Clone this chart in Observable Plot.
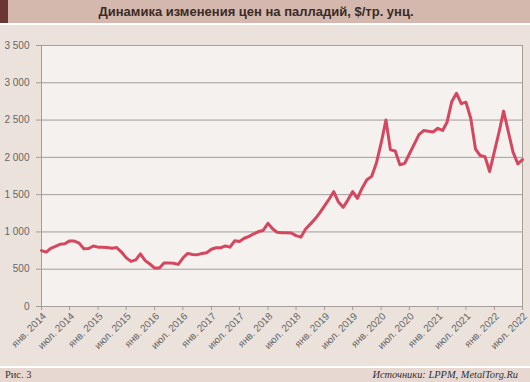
<!DOCTYPE html>
<html><head><meta charset="utf-8">
<script src="https://cdn.jsdelivr.net/npm/d3@7"></script>
<script src="https://cdn.jsdelivr.net/npm/@observablehq/plot@0.6"></script>
<style>
html,body{margin:0;padding:0;background:#fff;}
#wrap{position:relative;width:530px;height:382px;background:#fff;overflow:hidden;font-family:"Liberation Sans",Arial,sans-serif;}
#title{position:absolute;left:0;top:0;width:530px;height:23px;background:#d4b8ad;}
#title .blk{position:absolute;left:0;top:0;width:8px;height:23px;background:#6b3732;}
#title .txt{position:absolute;left:0;top:0;width:512px;line-height:23px;text-align:center;font-weight:bold;font-size:13px;color:#3b2b27;}
#panel{position:absolute;left:0;top:25px;width:530px;height:341px;background:#ebe2dc;}
#panel svg{display:block;}
#foot{position:absolute;left:0;top:368px;width:530px;height:14px;background:#e7d8d1;font-family:"Liberation Serif","DejaVu Serif",serif;font-size:10.4px;color:#333;line-height:14px;}
#foot .l{position:absolute;left:5px;top:0;}
#foot .r{position:absolute;right:12px;top:0;font-style:italic;}
</style>
</head><body>
<div id="wrap">
  <div id="title"><div class="blk"></div><div class="txt">Динамика изменения цен на палладий, $/тр. унц.</div></div>
  <div id="panel"></div>
  <div id="foot"><span class="l">Рис. 3</span><span class="r">Источники: LPPM, MetalTorg.Ru</span></div>
</div>
<script>
// Monthly palladium prices, $/troy oz, from Jan 2014 to Jul 2022
const startYear = 2014;
const prices = [
  750, 730, 780, 805, 835, 840, 880, 878, 850, 775, 778, 812,
  796, 796, 792, 780, 790, 730, 655, 605, 625, 705, 615, 570,
  515, 515, 582, 585, 580, 565, 650, 712, 697, 693, 712, 722,
  768, 787, 787, 812, 796, 882, 872, 915, 940, 975, 1005, 1020,
  1115, 1040, 995, 990, 990, 985, 950, 930, 1040, 1105, 1175, 1255,
  1350, 1445, 1540, 1400, 1330, 1430, 1540, 1450, 1590, 1700, 1745, 1920,
  2190, 2500, 2100, 2085, 1900, 1920, 2045, 2175, 2305, 2360, 2350, 2340,
  2390, 2360, 2470, 2750, 2860, 2720, 2740, 2525, 2110, 2025, 2010, 1810,
  2080, 2350, 2620, 2340, 2070, 1912, 1970
];
const xTickLabels = [
  "янв. 2014","июл. 2014","янв. 2015","июл. 2015","янв. 2016","июл. 2016",
  "янв. 2017","июл. 2017","янв. 2018","июл. 2018","янв. 2019","июл. 2019",
  "янв. 2020","июл. 2020","янв. 2021","июл. 2021","янв. 2022","июл. 2022"
];
const yTicks = [0, 500, 1000, 1500, 2000, 2500, 3000, 3500];

const data = prices.map((v, i) => ({date: new Date(Date.UTC(startYear, i, 1)), value: v}));
const xTicks = xTickLabels.map((_, i) => new Date(Date.UTC(startYear, i * 6, 1)));
const labelFor = d => {
  const m = (d.getUTCFullYear() - startYear) * 12 + d.getUTCMonth();
  return xTickLabels[Math.round(m / 6)];
};
const yFmt = d => d >= 1000 ? `${Math.floor(d / 1000)} ${String(d % 1000).padStart(3, "0")}` : String(d);

const gridColor = "#a49d99";
const chart = Plot.plot({
  width: 530, height: 341,
  marginTop: 20, marginBottom: 60, marginLeft: 41, marginRight: 8,
  style: {background: "transparent", fontFamily: "'Liberation Sans', Arial, sans-serif", fontSize: "10px", color: "#666", overflow: "visible"},
  x: {type: "utc", domain: [xTicks[0], xTicks[xTicks.length - 1]]},
  y: {domain: [0, 3500]},
  marks: [
    Plot.frame({fill: "#f5f1ee", stroke: gridColor}),
    Plot.ruleY(yTicks, {stroke: gridColor, strokeWidth: 1}),
    Plot.line(data, {x: "date", y: "value", stroke: "#d4475f", strokeWidth: 3, strokeLinejoin: "round", strokeLinecap: "round"}),
    Plot.axisY({ticks: yTicks, tickSize: 5, tickPadding: 7, tickFormat: yFmt, label: null, stroke: gridColor, fill: "#666", strokeOpacity: 1}),
    Plot.axisX({ticks: xTicks, tickSize: 4, tickFormat: () => "", label: null, stroke: gridColor, strokeOpacity: 1}),
    Plot.axisX({ticks: xTicks, tickSize: 0, tickPadding: 8, dx: 3, tickFormat: labelFor, tickRotate: -45, label: null, fill: "#666"})
  ]
});
document.getElementById("panel").appendChild(chart);
</script>
</body></html>
